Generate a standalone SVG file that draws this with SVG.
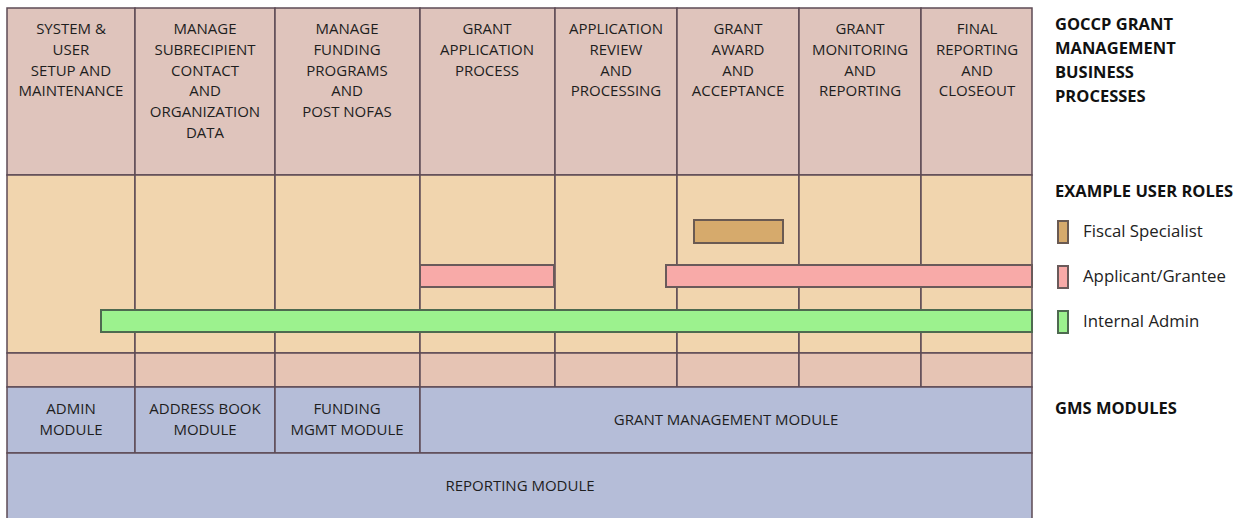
<svg xmlns="http://www.w3.org/2000/svg" width="1249" height="518" viewBox="0 0 1249 518">
<style>
.hd{fill:#dfc4bc;stroke:#5e4b55;stroke-width:1.5}
.yl{fill:#f1d5ae;stroke:#5e4b55;stroke-width:1.5}
.pk{fill:#e6c4b4;stroke:#5e4b55;stroke-width:1.5}
.md{fill:#b5bdd8;stroke:#5e4b55;stroke-width:1.5}
.t{font-family:"Open Sans","Liberation Sans",sans-serif;font-size:15px;fill:#1e1e1e;text-anchor:middle}
.b{font-family:"Open Sans","Liberation Sans",sans-serif;font-size:16.5px;font-weight:bold;fill:#111}
.l{font-family:"Open Sans","Liberation Sans",sans-serif;font-size:16.8px;fill:#222}
.fs{fill:#d6aa6c;stroke:#6a5a52;stroke-width:2}
.ag{fill:#f8aaa8;stroke:#6a5a5a;stroke-width:2}
.ia{fill:#9cf28e;stroke:#4e6a50;stroke-width:2}
</style>
<rect width="1249" height="518" fill="#ffffff"/>
<g id="process-header">
<rect class="hd" x="7" y="8" width="128" height="167"/>
<rect class="hd" x="135" y="8" width="140" height="167"/>
<rect class="hd" x="275" y="8" width="145" height="167"/>
<rect class="hd" x="420" y="8" width="135" height="167"/>
<rect class="hd" x="555" y="8" width="122" height="167"/>
<rect class="hd" x="677" y="8" width="122" height="167"/>
<rect class="hd" x="799" y="8" width="122" height="167"/>
<rect class="hd" x="921" y="8" width="111" height="167"/>
</g>
<g id="roles-area">
<rect class="yl" x="7" y="175" width="128" height="178"/>
<rect class="yl" x="135" y="175" width="140" height="178"/>
<rect class="yl" x="275" y="175" width="145" height="178"/>
<rect class="yl" x="420" y="175" width="135" height="178"/>
<rect class="yl" x="555" y="175" width="122" height="178"/>
<rect class="yl" x="677" y="175" width="122" height="178"/>
<rect class="yl" x="799" y="175" width="122" height="178"/>
<rect class="yl" x="921" y="175" width="111" height="178"/>
</g>
<g id="spacer-row">
<rect class="pk" x="7" y="353" width="128" height="34"/>
<rect class="pk" x="135" y="353" width="140" height="34"/>
<rect class="pk" x="275" y="353" width="145" height="34"/>
<rect class="pk" x="420" y="353" width="135" height="34"/>
<rect class="pk" x="555" y="353" width="122" height="34"/>
<rect class="pk" x="677" y="353" width="122" height="34"/>
<rect class="pk" x="799" y="353" width="122" height="34"/>
<rect class="pk" x="921" y="353" width="111" height="34"/>
</g>
<g id="p1"><text class="t" x="71" y="34">SYSTEM &amp;</text><text class="t" x="71" y="55">USER</text><text class="t" x="71" y="76">SETUP AND</text><text class="t" x="71" y="96">MAINTENANCE</text></g>
<g id="p2"><text class="t" x="205" y="34">MANAGE</text><text class="t" x="205" y="55">SUBRECIPIENT</text><text class="t" x="205" y="76">CONTACT</text><text class="t" x="205" y="96">AND</text><text class="t" x="205" y="117">ORGANIZATION</text><text class="t" x="205" y="138">DATA</text></g>
<g id="p3"><text class="t" x="347" y="34">MANAGE</text><text class="t" x="347" y="55">FUNDING</text><text class="t" x="347" y="76">PROGRAMS</text><text class="t" x="347" y="96">AND</text><text class="t" x="347" y="117">POST NOFAS</text></g>
<g id="p4"><text class="t" x="487" y="34">GRANT</text><text class="t" x="487" y="55">APPLICATION</text><text class="t" x="487" y="76">PROCESS</text></g>
<g id="p5"><text class="t" x="616" y="34">APPLICATION</text><text class="t" x="616" y="55">REVIEW</text><text class="t" x="616" y="76">AND</text><text class="t" x="616" y="96">PROCESSING</text></g>
<g id="p6"><text class="t" x="738" y="34">GRANT</text><text class="t" x="738" y="55">AWARD</text><text class="t" x="738" y="76">AND</text><text class="t" x="738" y="96">ACCEPTANCE</text></g>
<g id="p7"><text class="t" x="860" y="34">GRANT</text><text class="t" x="860" y="55">MONITORING</text><text class="t" x="860" y="76">AND</text><text class="t" x="860" y="96">REPORTING</text></g>
<g id="p8"><text class="t" x="977" y="34">FINAL</text><text class="t" x="977" y="55">REPORTING</text><text class="t" x="977" y="76">AND</text><text class="t" x="977" y="96">CLOSEOUT</text></g>
<g id="role-bars">
<rect class="fs" x="694" y="220" width="89" height="23"/>
<rect class="ag" x="420" y="265" width="134" height="22"/>
<rect class="ag" x="666" y="265" width="366" height="22"/>
<rect class="ia" x="101" y="310" width="931" height="22"/>
</g>
<g id="modules">
<g id="m-admin"><rect class="md" x="7" y="387" width="128" height="66"/><text class="t" x="71" y="414">ADMIN</text><text class="t" x="71" y="435">MODULE</text></g>
<g id="m-address"><rect class="md" x="135" y="387" width="140" height="66"/><text class="t" x="205" y="414">ADDRESS BOOK</text><text class="t" x="205" y="435">MODULE</text></g>
<g id="m-funding"><rect class="md" x="275" y="387" width="145" height="66"/><text class="t" x="347" y="414">FUNDING</text><text class="t" x="347" y="435">MGMT MODULE</text></g>
<g id="m-grant"><rect class="md" x="420" y="387" width="612" height="66"/><text class="t" x="726" y="425">GRANT MANAGEMENT MODULE</text></g>
<g id="m-reporting"><rect class="md" x="7" y="453" width="1025" height="70"/><text class="t" x="520" y="491">REPORTING MODULE</text></g>
</g>
<g id="labels">
<text class="b" x="1055" y="30">GOCCP GRANT</text>
<text class="b" x="1055" y="54">MANAGEMENT</text>
<text class="b" x="1055" y="78">BUSINESS</text>
<text class="b" x="1055" y="102">PROCESSES</text>
<text class="b" x="1055" y="197">EXAMPLE USER ROLES</text>
<text class="b" x="1055" y="414">GMS MODULES</text>
</g>
<g id="legend">
<rect class="fs" x="1058" y="221" width="10" height="22"/>
<text class="l" x="1083" y="237">Fiscal Specialist</text>
<rect class="ag" x="1058" y="266" width="10" height="22"/>
<text class="l" x="1083" y="282">Applicant/Grantee</text>
<rect class="ia" x="1058" y="311" width="10" height="22"/>
<text class="l" x="1083" y="327">Internal Admin</text>
</g>
</svg>
